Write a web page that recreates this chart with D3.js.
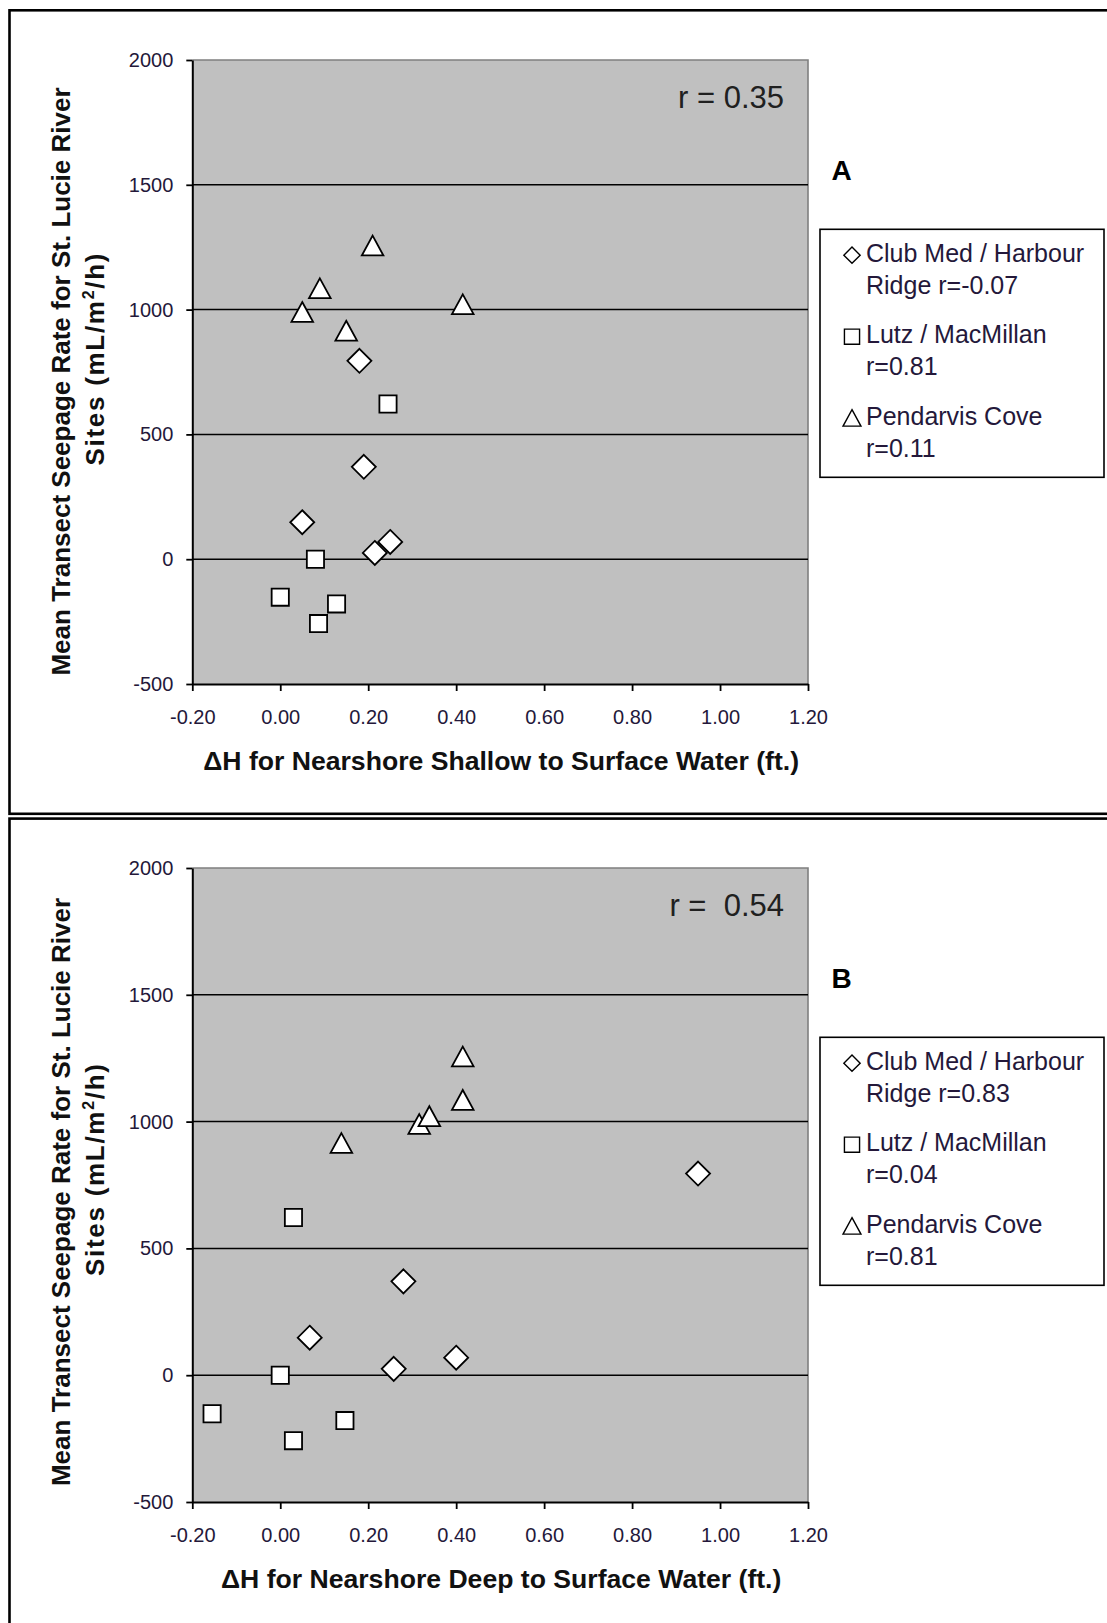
<!DOCTYPE html>
<html>
<head>
<meta charset="utf-8">
<script src="https://cdn.jsdelivr.net/npm/d3@7"></script>
<style>
  html, body { margin: 0; padding: 0; background: #fff; }
  svg { display: block; }
  text { font-family: "Liberation Sans", Arial, sans-serif; }
</style>
</head>
<body>
<svg id="chart" width="1107" height="1623"></svg>
<script>
// ---------------- DATA ----------------
const xTickValues = [-0.2, 0, 0.2, 0.4, 0.6, 0.8, 1.0, 1.2];
const xTickLabels = ["-0.20", "0.00", "0.20", "0.40", "0.60", "0.80", "1.00", "1.20"];
const yTickValues = [-500, 0, 500, 1000, 1500, 2000];
const yTickLabels = ["-500", "0", "500", "1000", "1500", "2000"];
const gridValues = [0, 500, 1000, 1500];

const seriesNames = ["Club Med / Harbour", "Lutz / MacMillan", "Pendarvis Cove"];

// Mean transect seepage rate (mL/m2/h) per site (shared by both panels)
const clubMedY   = [795, 370, 148, 25, 69];
const lutzY      = [622, 0, -152, -258, -179];
const pendarvisY = [1255, 1084, 989, 914, 1020];

// Panel A: dH nearshore shallow to surface water (ft.)
const clubMedXA   = [0.18, 0.19, 0.05, 0.215, 0.25];
const lutzXA      = [0.245, 0.08, 0.0, 0.087, 0.128];
const pendarvisXA = [0.21, 0.09, 0.05, 0.15, 0.415];

// Panel B: dH nearshore deep to surface water (ft.)
const clubMedXB   = [0.95, 0.28, 0.067, 0.258, 0.40];
const lutzXB      = [0.03, 0.0, -0.155, 0.03, 0.147];
const pendarvisXB = [0.415, 0.415, 0.316, 0.139, 0.339];

const panelLetters = ["A", "B"];
const overallR = ["r = 0.35", "r =  0.54"];
const xTitles = ["\u0394H for Nearshore Shallow to Surface Water (ft.)",
                 "\u0394H for Nearshore Deep to Surface Water (ft.)"];
const legendLinesA = [["Club Med / Harbour", "Ridge r=-0.07"], ["Lutz / MacMillan", "r=0.81"], ["Pendarvis Cove", "r=0.11"]];
const legendLinesB = [["Club Med / Harbour", "Ridge r=0.83"], ["Lutz / MacMillan", "r=0.04"], ["Pendarvis Cove", "r=0.81"]];
const yTitle1 = "Mean Transect Seepage Rate for St. Lucie River";
const yTitle2Parts = ["Sites (mL/m", "2", "/h)"];

// ---------------- LAYOUT ----------------
const svg = d3.select("#chart");
const plotLeft = 192.3, plotRight = 808;
const panels = [
  { top: 60,  bottom: 684,  off: 0,   yTitleC: 381.5,
    xs: [clubMedXA, lutzXA, pendarvisXA], legend: legendLinesA },
  { top: 868, bottom: 1502, off: 808, yTitleC: 1192,
    xs: [clubMedXB, lutzXB, pendarvisXB], legend: legendLinesB }
];
const ySeries = [clubMedY, lutzY, pendarvisY];
const textCol = "#24183a";

function markerPath(kind, s) {
  if (kind === 0) { const h = 12 * s; return `M0,${-h}L${h},0L0,${h}L${-h},0Z`; }
  if (kind === 1) { const h = 8.6 * s; return `M${-h},${-h}H${h}V${h}H${-h}Z`; }
  const w = 10.8 * s, t = 10.3 * s, b = 9.5 * s;
  return `M0,${-t}L${w},${b}L${-w},${b}Z`;
}

// outer frames
svg.append("rect").attr("x", 9.5).attr("y", 10.3).attr("width", 1200).attr("height", 803.5)
  .attr("fill", "none").attr("stroke", "#000").attr("stroke-width", 2.6);
svg.append("rect").attr("x", 9.5).attr("y", 818.6).attr("width", 1200).attr("height", 1000)
  .attr("fill", "none").attr("stroke", "#000").attr("stroke-width", 2.6);

panels.forEach((p, pi) => {
  const g = svg.append("g");
  const x = d3.scaleLinear().domain([-0.2, 1.2]).range([plotLeft, plotRight]);
  const y = d3.scaleLinear().domain([-500, 2000]).range([p.bottom, p.top]);

  // plot background
  g.append("rect").attr("x", plotLeft).attr("y", p.top)
    .attr("width", plotRight - plotLeft).attr("height", p.bottom - p.top)
    .attr("fill", "#c0c0c0");
  // gray border top/right
  g.append("path")
    .attr("d", `M${plotLeft},${p.top}H${plotRight}V${p.bottom}`)
    .attr("fill", "none").attr("stroke", "#7f7f7f").attr("stroke-width", 1.6);

  // gridlines
  g.selectAll(".grid").data(gridValues).enter().append("line")
    .attr("x1", plotLeft).attr("x2", plotRight)
    .attr("y1", d => y(d)).attr("y2", d => y(d))
    .attr("stroke", "#000").attr("stroke-width", 1.5);

  // axes
  const ax = g.append("g").attr("transform", `translate(0,${p.bottom})`)
    .call(d3.axisBottom(x).tickValues(xTickValues)
      .tickFormat((d, i) => xTickLabels[i]).tickSize(7).tickSizeOuter(0).tickPadding(19));
  const ay = g.append("g").attr("transform", `translate(${plotLeft},0)`)
    .call(d3.axisLeft(y).tickValues(yTickValues)
      .tickFormat((d, i) => yTickLabels[i]).tickSize(6).tickSizeOuter(0).tickPadding(13));
  [ax, ay].forEach(a => {
    a.select(".domain").attr("stroke", "#000").attr("stroke-width", 2);
    a.selectAll(".tick line").attr("stroke", "#000").attr("stroke-width", 1.8);
    a.selectAll(".tick text").attr("fill", textCol)
      .style("font-size", "20px").style("font-family", '"Liberation Sans", Arial, sans-serif');
  });

  // markers
  ySeries.forEach((ys, si) => {
    const pts = ys.map((v, i) => ({ x: p.xs[si][i], y: v }));
    g.selectAll(".m" + si).data(pts).enter().append("path")
      .attr("transform", d => `translate(${x(d.x)},${y(d.y)})`)
      .attr("d", markerPath(si, 1))
      .attr("fill", "#fff").attr("stroke", "#000").attr("stroke-width", 1.8)
      .attr("stroke-linejoin", "miter");
  });

  // r label
  g.append("text").attr("x", 784).attr("y", 108 + p.off).attr("text-anchor", "end")
    .style("font-size", "31px").attr("fill", "#202020").style("white-space", "pre")
    .attr("xml:space", "preserve")
    .text(overallR[pi]);

  // x title
  g.append("text").attr("x", (plotLeft + plotRight) / 2 + 1).attr("y", p.bottom + 86)
    .attr("text-anchor", "middle").style("font-size", "26.6px").style("font-weight", "bold")
    .attr("fill", "#111").text(xTitles[pi]);

  // y title
  const yt = g.append("g").attr("transform", `translate(0,${p.yTitleC}) rotate(-90)`);
  yt.append("text").attr("x", 0).attr("y", 69.5).attr("text-anchor", "middle")
    .style("font-size", "26px").style("font-weight", "bold").attr("fill", "#111").text(yTitle1);
  const t2 = yt.append("text").attr("x", 22).attr("y", 104).attr("text-anchor", "middle")
    .attr("textLength", 212).attr("lengthAdjust", "spacing")
    .style("font-size", "26px").style("font-weight", "bold").attr("fill", "#111");
  t2.append("tspan").text(yTitle2Parts[0]);
  t2.append("tspan").attr("dy", -10).style("font-size", "16px").text(yTitle2Parts[1]);
  t2.append("tspan").attr("dy", 10).text(yTitle2Parts[2]);

  // panel letter
  g.append("text").attr("x", 831.5).attr("y", 180 + p.off)
    .style("font-size", "28px").style("font-weight", "bold").attr("fill", "#000")
    .text(panelLetters[pi]);

  // legend
  const lt = 229.3 + p.off;
  g.append("rect").attr("x", 820).attr("y", lt).attr("width", 284).attr("height", 248)
    .attr("fill", "#fff").attr("stroke", "#000").attr("stroke-width", 1.6);
  p.legend.forEach((lines, si) => {
    const base = lt + 32.5 + si * 81.5;
    g.append("path").attr("transform", `translate(852,${base - 6.6})`)
      .attr("d", markerPath(si, si === 0 ? 0.68 : (si === 1 ? 0.88 : 0.83)))
      .attr("fill", "#fff").attr("stroke", "#000").attr("stroke-width", 1.4);
    lines.forEach((t, li) => {
      g.append("text").attr("x", 866).attr("y", base + li * 31.7)
        .style("font-size", "25px").attr("fill", textCol).text(t);
    });
  });
});
</script>
</body>
</html>
